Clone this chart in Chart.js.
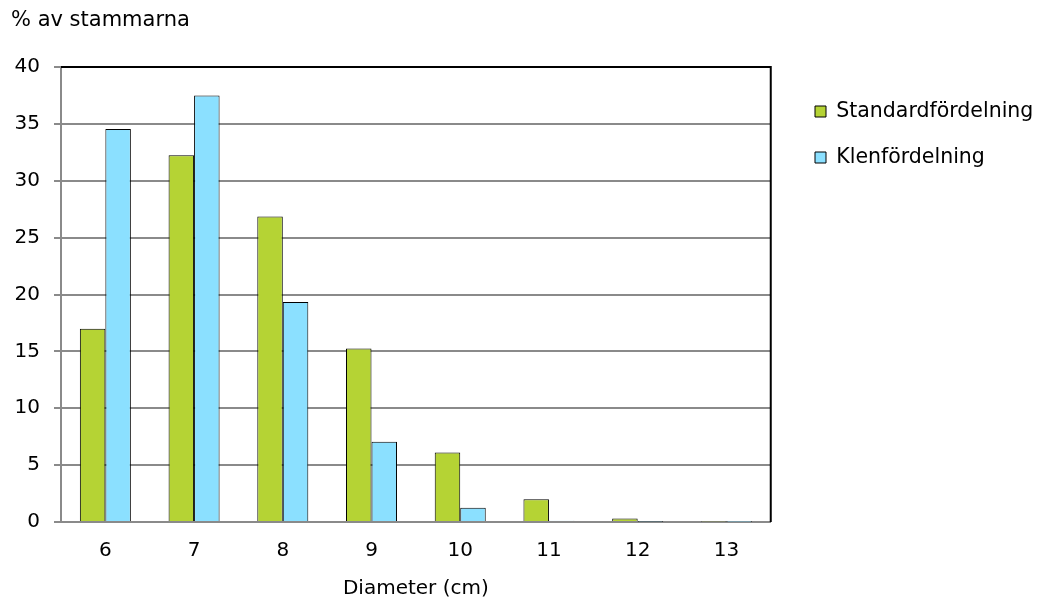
<!DOCTYPE html>
<html>
<head>
<meta charset="utf-8">
<script src="https://cdn.jsdelivr.net/npm/chart.js@4.4.1/dist/chart.umd.min.js"></script>
<style>
  html, body { margin: 0; padding: 0; background: #ffffff; }
  #wrap { width: 1044px; height: 603px; position: relative; }
</style>
</head>
<body>
<div id="wrap"><canvas id="c" width="1044" height="603"></canvas></div>
<script>
// Diameter classes (cm)
const diameters = ['6', '7', '8', '9', '10', '11', '12', '13'];
// Share of stems per diameter class (%)
const standardFordelning = [17.0, 32.25, 26.85, 15.25, 6.1, 2.0, 0.3, 0.05];
const klenFordelning     = [34.55, 37.5, 19.35, 7.05, 1.25, 0.12, 0.03, 0.02];
// Y-axis ticks
const yMin = 0, yMax = 40, yStep = 5;

const FONT = 'DejaVu Sans';
const gridGrey = '#8a8a8a';

// Black frame on the top and right side of the plot area
const plotFrame = {
  id: 'plotFrame',
  afterDatasetsDraw(chart) {
    const { ctx, chartArea: a } = chart;
    ctx.save();
    ctx.strokeStyle = '#000000';
    ctx.lineWidth = 2;
    ctx.beginPath();
    ctx.moveTo(a.left, a.top);
    ctx.lineTo(a.right, a.top);
    ctx.lineTo(a.right, a.bottom);
    ctx.stroke();
    ctx.restore();
  }
};

// Place the legend block next to the plot
const legendPlacement = {
  id: 'legendPlacement',
  afterLayout(chart, args, opts) {
    const lg = chart.legend;
    if (!lg) return;
    const dx = opts.left - lg.left;
    const dy = opts.top - lg.top;
    lg.left += dx; lg.right += dx;
    lg.top += dy; lg.bottom += dy;
  }
};

new Chart(document.getElementById('c'), {
  type: 'bar',
  data: {
    labels: diameters,
    datasets: [
      {
        label: 'Standardfördelning',
        data: standardFordelning,
        backgroundColor: '#b5d334',
        borderColor: '#000000',
        borderWidth: 1
      },
      {
        label: 'Klenfördelning',
        data: klenFordelning,
        backgroundColor: '#8be0ff',
        borderColor: '#000000',
        borderWidth: 1
      }
    ]
  },
  options: {
    responsive: false,
    animation: false,
    devicePixelRatio: 1,
    layout: { padding: { left: 11, right: 20, top: 0, bottom: 0 } },
    datasets: { bar: { categoryPercentage: 0.575, barPercentage: 1.0 } },
    plugins: {
      tooltip: { enabled: false },
      title: {
        display: true,
        text: '% av stammarna',
        align: 'start',
        color: '#000000',
        font: { family: FONT, size: 21, weight: 'normal' },
        padding: { top: 8, bottom: 33.8 }
      },
      legend: {
        display: true,
        position: 'right',
        align: 'start',
        labels: {
          color: '#000000',
          font: { family: FONT, size: 20.5 },
          boxWidth: 11,
          boxHeight: 11,
          padding: 25.5
        }
      },
      legendPlacement: { left: 789.5, top: 75.75 }
    },
    scales: {
      x: {
        grid: { display: false, drawTicks: false },
        border: { display: true, color: gridGrey, width: 2 },
        ticks: {
          color: '#000000',
          font: { family: FONT, size: 20 },
          padding: 17,
          maxRotation: 0
        },
        title: {
          display: true,
          text: 'Diameter (cm)',
          color: '#000000',
          font: { family: FONT, size: 20 },
          padding: { top: -3, bottom: 2 }
        }
      },
      y: {
        min: yMin,
        max: yMax,
        grid: { color: gridGrey, lineWidth: 2, tickLength: 7, drawTicks: true },
        border: { display: true, color: gridGrey, width: 2 },
        ticks: {
          stepSize: yStep,
          color: '#000000',
          font: { family: FONT, size: 20 },
          padding: 14
        },
        afterFit(scale) { scale.width = 50; }
      }
    }
  },
  plugins: [plotFrame, legendPlacement]
});
</script>
</body>
</html>
